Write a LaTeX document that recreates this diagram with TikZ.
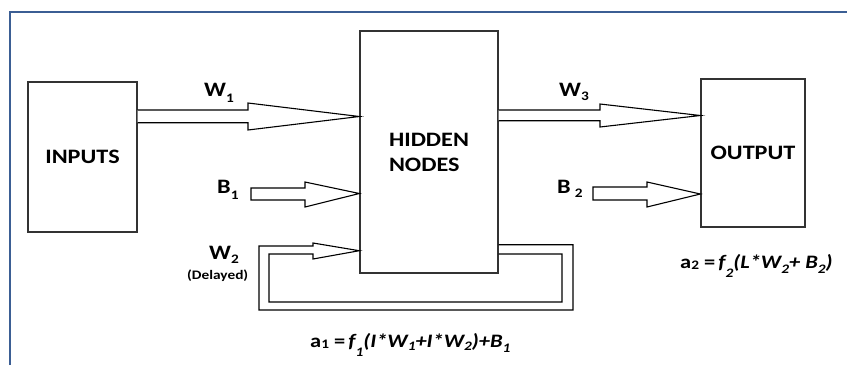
\documentclass[tikz,border=0pt]{standalone}
\usepackage{fontspec}
\setmainfont{Carlito}[FakeStretch=1.18]
\definecolor{frameblue}{RGB}{59,94,148}
\newcommand\sbx[3][13]{\raisebox{-#2pt}{\fontsize{#1}{#1}\selectfont #3}}
\tikzset{
  box/.style={draw=black!80, line width=1.3pt, inner sep=0pt, fill=white,
    font=\bfseries\fontsize{20.5}{25}\selectfont},
  blk/.style={draw=black, line width=1.1pt, fill=white, line join=miter},
  lbl/.style={anchor=base west, inner sep=0pt, font=\bfseries\fontsize{20.5}{22}\selectfont},
  frm/.style={anchor=base west, inner sep=0pt, font=\bfseries\fontsize{19}{20}\selectfont},
  small/.style={anchor=base west, inner sep=0pt, font=\bfseries\fontsize{13}{14}\selectfont}
}
\begin{document}
\begin{tikzpicture}[x=1pt,y=-1pt]
\useasboundingbox (0,0) rectangle (847,365);
\fill[white] (0,0) rectangle (847,365);
\draw[frameblue, line width=2.2pt] (10,365) -- (10,12) -- (847,12);

\node[box, minimum width=109pt, minimum height=150pt] (in) at (82.5,157) {INPUTS};
\node[box, minimum width=138pt, minimum height=242pt, align=left] (hid) at (429,152) {HIDDEN\\NODES};
\node[box, minimum width=104pt, minimum height=148pt] (out) at (753,153) {OUTPUT};

% W1
\draw[blk] (in.east |- 0,110) -- (248,110) -- (248,103) -- (hid.west |- 0,116.5)
  -- (248,130) -- (248,122.7) -- (in.east |- 0,122.7);
% B1
\draw[blk] (251,188) -- (305,188) -- (305,182) -- (hid.west |- 0,193.5)
  -- (305,207) -- (305,200) -- (251,200) -- cycle;
% W2 feedback
\draw[blk, fill=none] (hid.east |- 0,244.7) -- (573,244.7) -- (573,310) -- (259,310)
  -- (259,246) -- (313,246) -- (313,243) -- (hid.west |- 0,250.7) -- (313,259)
  -- (313,254) -- (269,254) -- (269,302) -- (562,302) -- (562,254) -- (hid.east |- 0,254);
% W3
\draw[blk] (hid.east |- 0,110) -- (600,110) -- (600,104) -- (out.west |- 0,115.5)
  -- (600,127) -- (600,120.7) -- (hid.east |- 0,120.7);
% B2
\draw[blk] (593,187) -- (647,187) -- (647,182) -- (out.west |- 0,194)
  -- (647,207) -- (647,200) -- (593,200) -- cycle;

\node[lbl] (w1) at (204,96) {W\sbx{6}{1}};
\node[lbl] (b1) at (217,193) {B\sbx{6}{1}};
\node[lbl] (w2) at (209,259) {W\sbx{4}{2}};
\node[small] (dl) at (187,279) {(Delayed)};
\node[lbl] (w3) at (559,96) {W\sbx{4}{3}};
\node[lbl] (b2) at (557,193) {B\hspace{4pt}\sbx{4}{2}};

\node[frm] (a1) at (310,347) {a\sbx{1}{1} =\,\textit{f\sbx{9}{1}(I*W\sbx{3}{1}+I*W\sbx{3}{2})+B\sbx{5}{1}}};
\node[frm] (a2) at (680,268) {a\sbx{1}{2} =\,\textit{f\sbx{9}{2}(L*W\sbx{5}{2}+ B\sbx{5}{2})}};
\end{tikzpicture}
\end{document}
